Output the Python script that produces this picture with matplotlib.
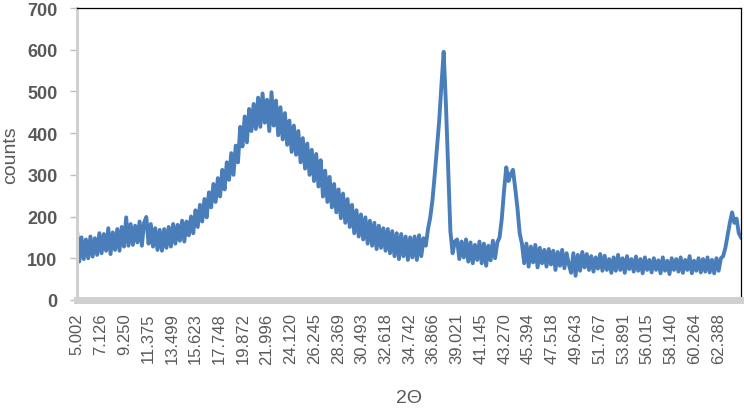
import numpy as np
from matplotlib import pyplot as plt

# counts, one value every 0.2 degrees from 5.002 to 64.4
counts = [
    168, 92, 150, 98, 145, 100, 152, 104, 148, 108,
    160, 112, 158, 118, 172, 110, 162, 120, 170, 118,
    175, 128, 198, 130, 182, 132, 178, 138, 188, 130,
    185, 199, 135, 182, 128, 172, 120, 168, 118, 170,
    125, 175, 128, 182, 135, 180, 142, 190, 140, 188,
    155, 200, 160, 215, 175, 228, 188, 242, 198, 258,
    222, 278, 235, 292, 248, 312, 265, 330, 288, 352,
    300, 370, 330, 415, 368, 440, 378, 458, 405, 470,
    410, 485, 415, 495, 425, 480, 405, 498, 418, 478,
    395, 462, 385, 448, 372, 430, 355, 418, 348, 405,
    330, 388, 315, 375, 300, 360, 285, 350, 272, 335,
    248, 310, 235, 295, 222, 278, 210, 265, 196, 255,
    185, 242, 175, 228, 160, 215, 152, 205, 145, 198,
    135, 190, 130, 185, 122, 178, 125, 172, 118, 170,
    112, 165, 105, 160, 98, 158, 105, 152, 96, 150,
    102, 152, 96, 155, 105, 148, 130, 170, 198, 240,
    300, 365, 430, 515, 595, 470, 320, 165, 112, 140,
    145, 98, 140, 102, 145, 92, 138, 88, 132, 96,
    140, 88, 135, 82, 130, 95, 142, 100, 138, 150,
    195, 262, 318, 285, 302, 312, 268, 220, 160, 135,
    88, 135, 80, 128, 90, 132, 78, 125, 88, 120,
    80, 122, 85, 118, 72, 115, 82, 120, 76, 112,
    85, 65, 112, 58, 108, 70, 115, 78, 110, 72,
    105, 68, 102, 75, 110, 70, 106, 72, 98, 65,
    102, 70, 108, 72, 100, 65, 105, 74, 98, 68,
    104, 70, 98, 64, 102, 72, 96, 66, 100, 72,
    95, 64, 102, 70, 94, 62, 100, 72, 98, 68,
    102, 65, 96, 72, 105, 64, 94, 70, 100, 66,
    98, 68, 102, 66, 96, 64, 100, 70, 100, 105,
    125, 155, 185, 210, 185, 195, 160, 150,
]
two_theta = np.linspace(5.002, 64.4, len(counts))

xtick_labels = ["5.002", "7.126", "9.250", "11.375", "13.499", "15.623", "17.748",
                "19.872", "21.996", "24.120", "26.245", "28.369", "30.493", "32.618",
                "34.742", "36.866", "39.021", "41.145", "43.270", "45.394", "47.518",
                "49.643", "51.767", "53.891", "56.015", "58.140", "60.264", "62.388"]
yticks = [0, 100, 200, 300, 400, 500, 600, 700]

plt.rcParams['font.family'] = ['Liberation Sans', 'DejaVu Sans']
gray = '#595959'

fig = plt.figure(figsize=(7.44, 4.10), dpi=100)
ax = fig.add_axes([0.1035, 0.266, 0.8925, 0.712])

ax.plot(two_theta, counts, color='#4a7ebb', linewidth=2.8, solid_joinstyle='round')

ax.set_xlim(two_theta[0], two_theta[-1])
ax.set_ylim(0, 700)

ax.set_xticks([float(t) for t in xtick_labels])
ax.set_xticklabels(xtick_labels, rotation=90, fontsize=12, color=gray)
ax.tick_params(axis='x', length=0, pad=9)

ax.set_yticks(yticks)
ax.set_yticklabels([str(v) for v in yticks], fontsize=13, fontweight='bold', color=gray)
ax.tick_params(axis='y', length=5, width=1, color='#bfbfbf', pad=9)

ax.spines['left'].set_color('#d0d0d0')
ax.spines['left'].set_linewidth(2.2)
ax.spines['bottom'].set_color('#d0d0d0')
ax.spines['bottom'].set_linewidth(5)
ax.spines['top'].set_color('black')
ax.spines['top'].set_linewidth(0.9)
ax.spines['right'].set_color('black')
ax.spines['right'].set_linewidth(0.9)

ax.set_ylabel("counts", fontsize=14, color=gray, labelpad=6)
ax.set_xlabel("2Θ", fontsize=14, color=gray, labelpad=18)

fig.savefig("out.png", dpi=100)
